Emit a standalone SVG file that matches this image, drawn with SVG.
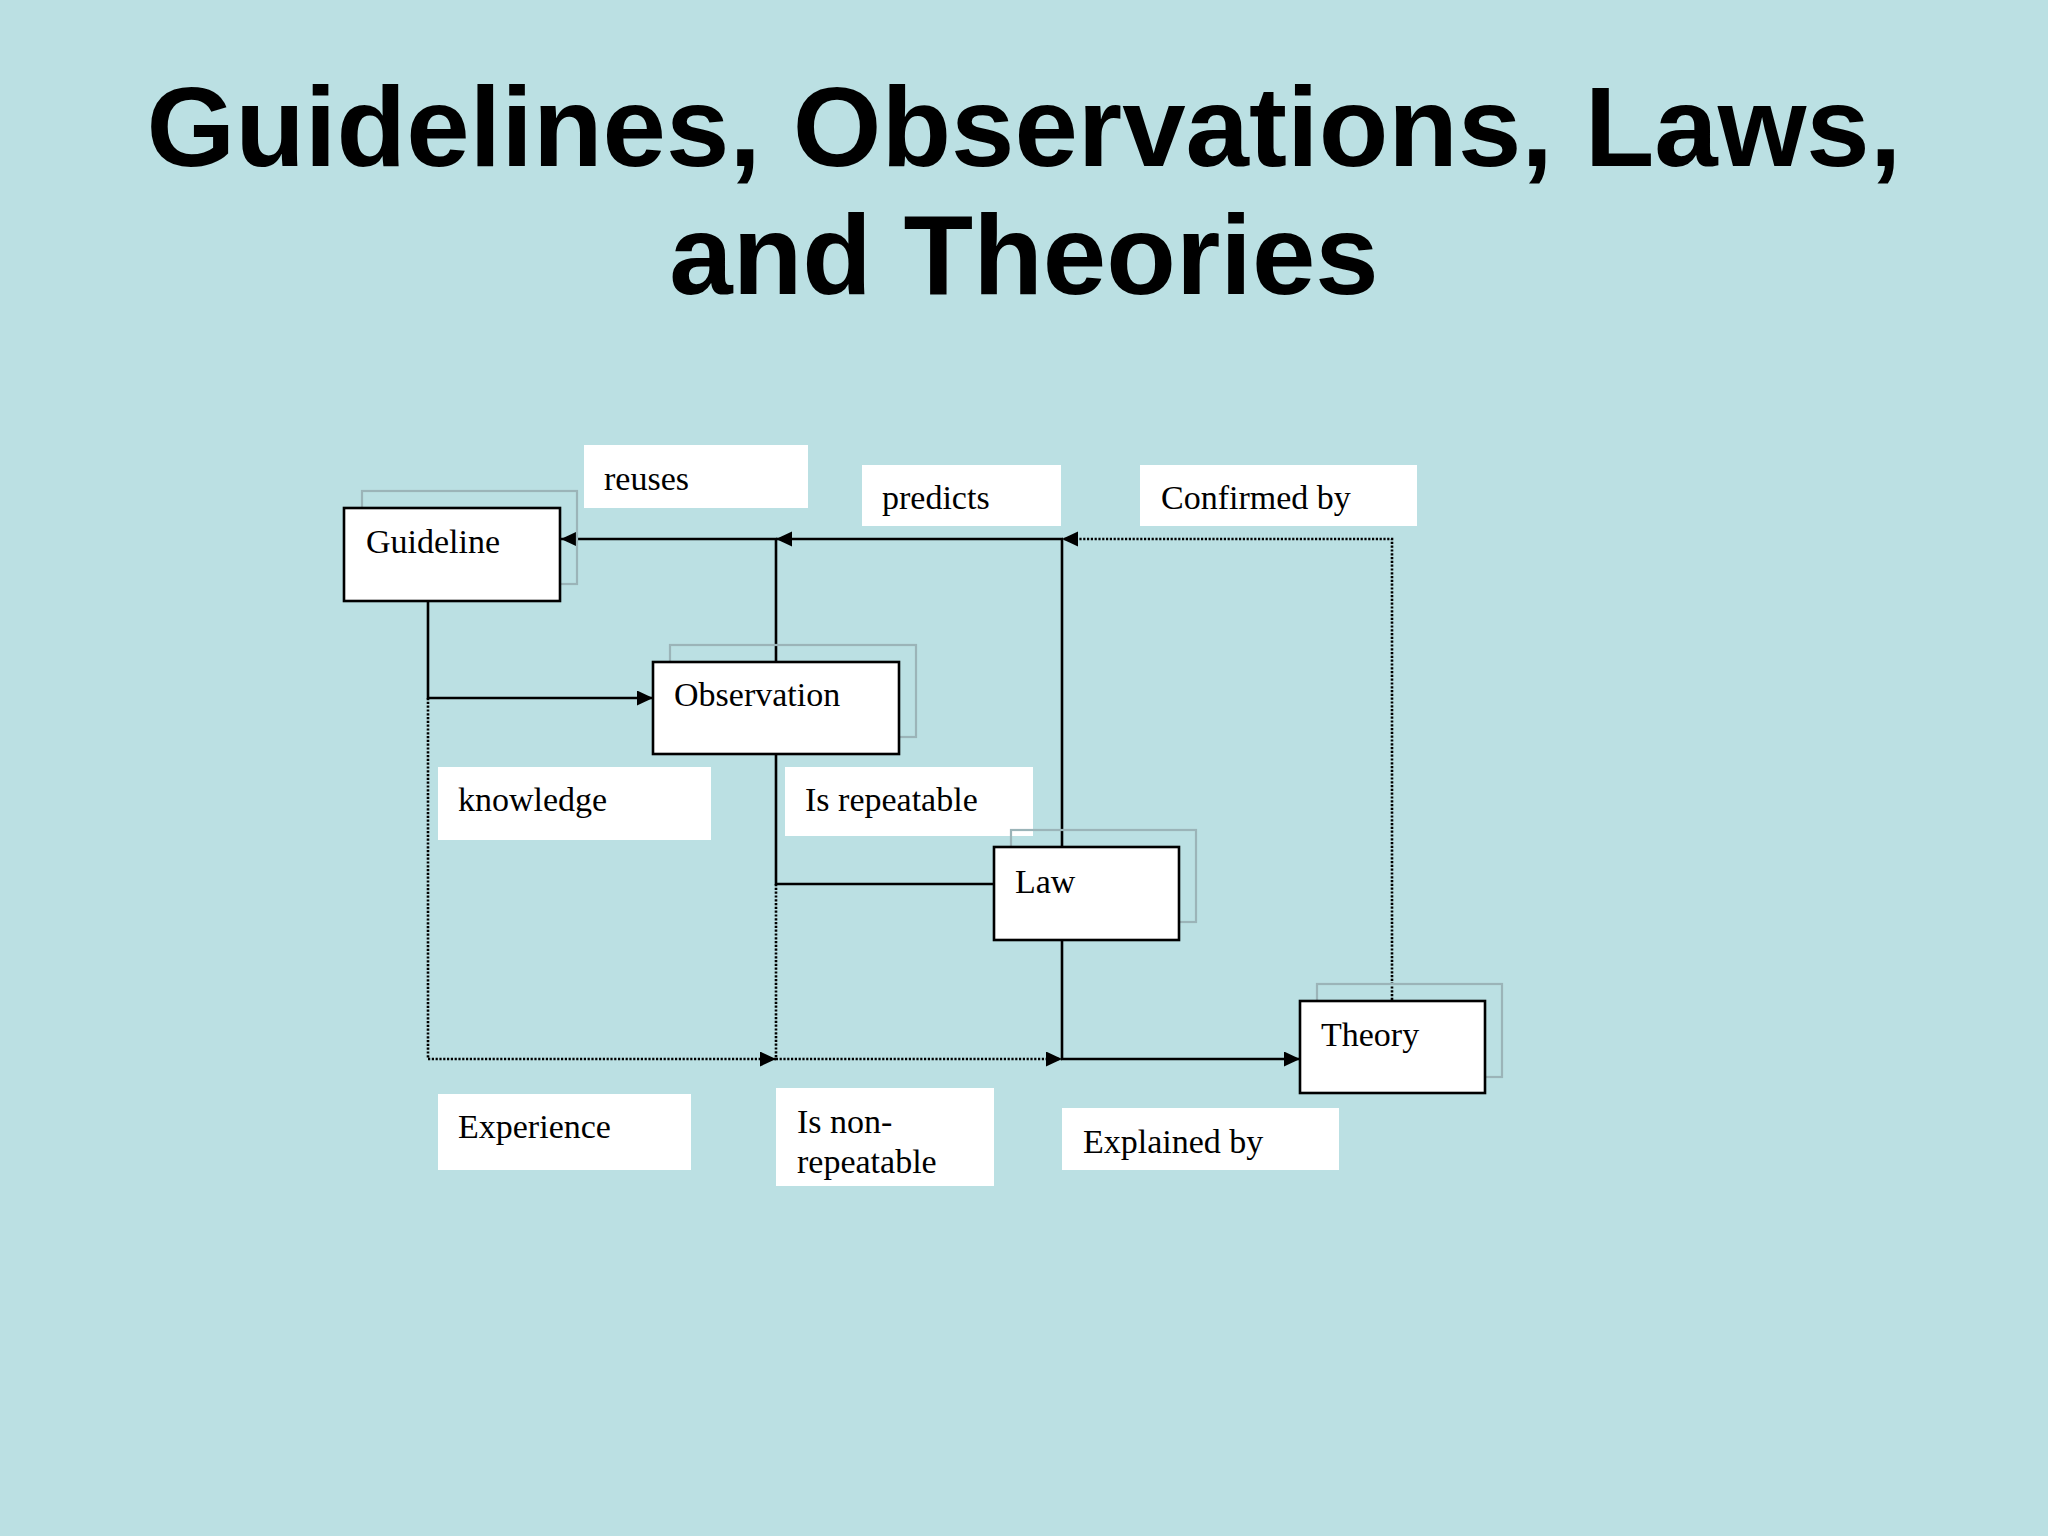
<svg xmlns="http://www.w3.org/2000/svg" width="2048" height="1536" viewBox="0 0 2048 1536">
<style>
.title{font-family:"Liberation Sans",Arial,sans-serif;font-weight:bold;font-size:114px;fill:#000;text-anchor:middle}
.t{font-family:"Liberation Serif","Times New Roman",serif;font-size:34px;fill:#000}
.box{fill:#fff;stroke:#000;stroke-width:2.6}
.shadow{fill:none;stroke:#9bb4b8;stroke-width:2.2}
.lbl{fill:#fff;stroke:none}
.solid{fill:none;stroke:#000;stroke-width:2.6}
.dot{fill:none;stroke:#000;stroke-width:2.6;stroke-dasharray:2.2 1.6}
</style>
<defs>
<marker id="arr" markerUnits="userSpaceOnUse" markerWidth="17" markerHeight="16" refX="16" refY="7.5" orient="auto">
<path d="M0,0 L16,7.5 L0,15 z" fill="#000"/>
</marker>
</defs>
<rect width="2048" height="1536" fill="#bbe0e3"/>
<text class="title" x="1024" y="166">Guidelines, Observations, Laws,</text>
<text class="title" x="1024" y="294">and Theories</text>

<g id="labels">
<g id="lbl-reuses"><rect class="lbl" x="584" y="445" width="224" height="63"/><text class="t" x="604" y="490">reuses</text></g>
<g id="lbl-predicts"><rect class="lbl" x="862" y="465" width="199" height="61"/><text class="t" x="882" y="509">predicts</text></g>
<g id="lbl-confirmed"><rect class="lbl" x="1140" y="465" width="277" height="61"/><text class="t" x="1161" y="509">Confirmed by</text></g>
<g id="lbl-knowledge"><rect class="lbl" x="438" y="767" width="273" height="73"/><text class="t" x="458" y="811">knowledge</text></g>
<g id="lbl-repeatable"><rect class="lbl" x="785" y="767" width="248" height="69"/><text class="t" x="805" y="811">Is repeatable</text></g>
<g id="lbl-experience"><rect class="lbl" x="438" y="1094" width="253" height="76"/><text class="t" x="458" y="1138">Experience</text></g>
<g id="lbl-nonrepeatable"><rect class="lbl" x="776" y="1088" width="218" height="98"/><text class="t" x="797"><tspan x="797" y="1133">Is non-</tspan><tspan x="797" y="1173">repeatable</tspan></text></g>
<g id="lbl-explained"><rect class="lbl" x="1062" y="1108" width="277" height="62"/><text class="t" x="1083" y="1153">Explained by</text></g>
</g>

<g id="connectors">
<path class="solid" d="M776,662 V539 H561" marker-end="url(#arr)"/>
<path class="solid" d="M1062,846 V539 H776" marker-end="url(#arr)"/>
<path class="dot" d="M1392,1000 V539 H1062" marker-end="url(#arr)"/>
<path class="solid" d="M428,601 V698 H653" marker-end="url(#arr)"/>
<path class="dot" d="M428,698 V1059 H776" marker-end="url(#arr)"/>
<path class="solid" d="M776,754 V884 H994"/>
<path class="dot" d="M776,884 V1059 H1062" marker-end="url(#arr)"/>
<path class="solid" d="M1062,939 V1059 H1300" marker-end="url(#arr)"/>
</g>

<g id="node-guideline">
<rect class="shadow" x="362" y="491" width="215" height="93"/>
<rect class="box" x="344" y="508" width="216" height="93"/>
<text class="t" x="366" y="553">Guideline</text>
</g>
<g id="node-observation">
<rect class="shadow" x="670" y="645" width="246" height="92"/>
<rect class="box" x="653" y="662" width="246" height="92"/>
<text class="t" x="674" y="706">Observation</text>
</g>
<g id="node-law">
<rect class="shadow" x="1011" y="830" width="185" height="92"/>
<rect class="box" x="994" y="847" width="185" height="93"/>
<text class="t" x="1015" y="893">Law</text>
</g>
<g id="node-theory">
<rect class="shadow" x="1317" y="984" width="185" height="93"/>
<rect class="box" x="1300" y="1001" width="185" height="92"/>
<text class="t" x="1321" y="1046">Theory</text>
</g>
</svg>
